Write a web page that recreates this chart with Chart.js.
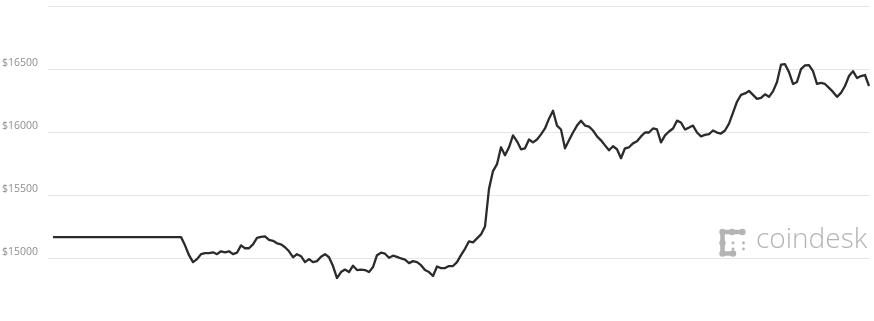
<!DOCTYPE html>
<html>
<head>
<meta charset="utf-8">
<script src="https://cdn.jsdelivr.net/npm/chart.js@4"></script>
<style>
    html, body { margin: 0; padding: 0; background: #fff; }
    #wrap { width: 874px; height: 321px; position: relative; }
</style>
</head>
<body>
<div id="wrap"><canvas id="graficoPrecio"></canvas></div>
<script>
// precio BTC (USD), muestras equiespaciadas
const precios = [
    15170, 15170, 15170, 15170, 15170, 15170, 15170, 15170, 15170, 15170, 15170,
    15170, 15170, 15170, 15170, 15170, 15170, 15170, 15170, 15170, 15170, 15170,
    15170, 15170, 15170, 15170, 15170, 15170, 15170, 15170, 15170, 15170, 15170,
    15104, 15026, 14971, 14995, 15034, 15042, 15042, 15049, 15034, 15057, 15049,
    15057, 15034, 15046, 15104, 15081, 15081, 15112, 15163, 15171, 15175, 15148,
    15140, 15120, 15112, 15089, 15057, 15010, 15034, 15018, 14971, 14995, 14971,
    14979, 15014, 15034, 15010, 14940, 14845, 14892, 14912, 14892, 14943, 14908,
    14912, 14908, 14892, 14932, 15026, 15046, 15038, 15006, 15022, 15013, 15000,
    14991, 14963, 14979, 14971, 14947, 14908, 14892, 14861, 14936, 14924, 14924,
    14940, 14940, 14971, 15026, 15077, 15136, 15128, 15159, 15191, 15254, 15552,
    15693, 15748, 15882, 15819, 15882, 15976, 15929, 15866, 15874, 15944, 15921,
    15944, 15984, 16031, 16109, 16172, 16054, 16023, 15874, 15937, 15999, 16054,
    16093, 16054, 16046, 16015, 15968, 15937, 15897, 15858, 15890, 15866, 15795,
    15874, 15882, 15913, 15929, 15968, 15999, 15999, 16031, 16023, 15921, 15976,
    16007, 16031, 16093, 16078, 16023, 16038, 16054, 15999, 15968, 15980, 15987,
    16015, 15999, 15991, 16015, 16070, 16156, 16243, 16298, 16309, 16329, 16298,
    16266, 16274, 16302, 16282, 16325, 16400, 16537, 16541, 16478, 16384, 16400,
    16502, 16531, 16533, 16486, 16384, 16392, 16384, 16353, 16321, 16282, 16313,
    16368, 16447, 16486, 16431, 16447, 16455, 16368
];
const etiquetas = precios.map((_, i) => i);
const ticksEje = [15000, 15500, 16000, 16500, 17000];
const ticksConTexto = [15000, 15500, 16000, 16500];

const COLORES = {
    LINEA: '#2b2b2b',
    REJILLA: '#e6e6e6',
    TEXTO: '#8e8e8e',
    LOGO: '#b4b4b4'
};

// marca de agua coindesk
const logoPlugin = {
    id: 'logoCoindesk',
    afterDraw(chart) {
        const ctx = chart.ctx;
        ctx.save();
        ctx.strokeStyle = COLORES.LOGO;
        ctx.fillStyle = COLORES.LOGO;
        ctx.lineWidth = 4.5;
        ctx.lineCap = 'round';
        ctx.lineJoin = 'round';
        ctx.beginPath();
        ctx.moveTo(742.5, 232);
        ctx.lineTo(722.5, 232);
        ctx.lineTo(722.5, 253.5);
        ctx.lineTo(733, 253.5);
        ctx.stroke();
        [[722.5, 232], [732, 232], [742.5, 232], [722.5, 243], [722.5, 253.5], [733, 253.5]].forEach(([x, y]) => {
            ctx.beginPath();
            ctx.arc(x, y, 3.2, 0, Math.PI * 2);
            ctx.fill();
        });
        [[733, 243], [743.5, 243], [733, 249], [743.5, 249]].forEach(([x, y]) => {
            ctx.beginPath();
            ctx.arc(x, y, 1.4, 0, Math.PI * 2);
            ctx.fill();
        });
        ctx.font = '300 28px "Open Sans"';
        ctx.textBaseline = 'alphabetic';
        ctx.fillText('coindesk', 756, 248);
        ctx.restore();
    }
};

new Chart(document.getElementById('graficoPrecio').getContext('2d'), {
    type: 'line',
    data: {
        labels: etiquetas,
        datasets: [
            {
                data: precios,
                borderColor: COLORES.LINEA,
                borderWidth: 2.3,
                pointRadius: 0,
                tension: 0,
                borderJoinStyle: 'round',
                fill: false
            }
        ]
    },
    options: {
        responsive: true,
        maintainAspectRatio: false,
        animation: false,
        layout: { padding: { left: 2, right: 5, top: 3, bottom: 31 } },
        plugins: {
            legend: { display: false },
            tooltip: { enabled: false }
        },
        scales: {
            x: { display: false, offset: false },
            y: {
                position: 'left',
                min: 14750,
                max: 17000,
                afterBuildTicks: axis => {
                    axis.ticks = ticksEje.map(v => ({ value: v }));
                },
                afterFit: axis => { axis.width = 51; },
                border: { display: false },
                grid: {
                    color: COLORES.REJILLA,
                    lineWidth: 1,
                    drawTicks: true,
                    tickLength: 5
                },
                ticks: {
                    color: COLORES.TEXTO,
                    font: { family: '"Open Sans"', size: 10.5 },
                    crossAlign: 'far',
                    labelOffset: -6,
                    padding: 0,
                    callback: v => (ticksConTexto.includes(v) ? `$${v}` : '')
                }
            }
        }
    },
    plugins: [logoPlugin]
});
</script>
</body>
</html>
